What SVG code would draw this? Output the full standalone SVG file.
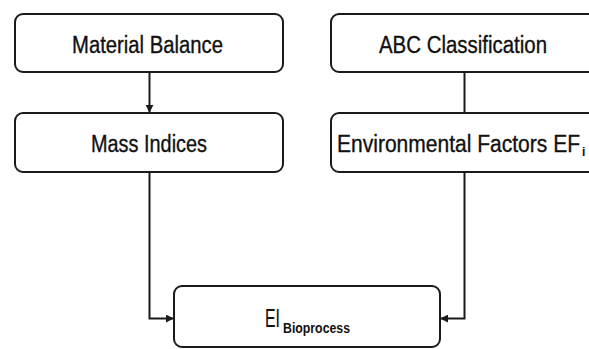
<svg xmlns="http://www.w3.org/2000/svg" width="589" height="349" viewBox="0 0 589 349">
<style>
.box{fill:#fff;stroke:#1a1a1a;stroke-width:2}
.lbl{font-family:"Liberation Sans",Arial,sans-serif;font-size:23.5px;fill:#111;stroke:#111;stroke-width:0.35;text-anchor:middle}
.sub{font-family:"Liberation Sans",Arial,sans-serif;fill:#111;font-weight:bold}
.con{fill:none;stroke:#1a1a1a;stroke-width:2}
</style>
<defs>
<marker id="ah" viewBox="0 0 10 10" refX="9" refY="5" markerWidth="4" markerHeight="4" orient="auto" markerUnits="strokeWidth">
<path d="M0,0 L10,5 L0,10 z" fill="#1a1a1a"/>
</marker>
</defs>
<rect width="589" height="349" fill="#fff"/>
<g id="connectors">
<line class="con" x1="149.5" y1="72" x2="149.5" y2="112" marker-end="url(#ah)"/>
<line class="con" x1="464.5" y1="72" x2="464.5" y2="113"/>
<polyline class="con" points="149.5,172 149.5,318.5 173,318.5" marker-end="url(#ah)"/>
<polyline class="con" points="464.5,172 464.5,318.5 441,318.5" marker-end="url(#ah)"/>
</g>
<g id="material-balance">
<rect class="box" x="15" y="14" width="268" height="58" rx="8"/>
<text class="lbl" x="147.5" y="53" textLength="151" lengthAdjust="spacingAndGlyphs">Material Balance</text>
</g>
<g id="mass-indices">
<rect class="box" x="15" y="113" width="268" height="59" rx="8"/>
<text class="lbl" x="149" y="152" textLength="116" lengthAdjust="spacingAndGlyphs">Mass Indices</text>
</g>
<g id="abc-classification">
<rect class="box" x="331" y="14" width="268" height="58" rx="8"/>
<text class="lbl" x="463" y="53" textLength="168" lengthAdjust="spacingAndGlyphs">ABC Classification</text>
</g>
<g id="environmental-factors">
<rect class="box" x="331" y="113" width="268" height="59" rx="8"/>
<text class="lbl" x="337" y="152" style="text-anchor:start" textLength="243" lengthAdjust="spacingAndGlyphs">Environmental Factors EF</text>
<text class="sub" x="582" y="156" font-size="12" font-weight="normal">i</text>
</g>
<g id="ei-bioprocess">
<rect class="box" x="174" y="286" width="266" height="61" rx="8"/>
<text class="lbl" x="265" y="327" style="text-anchor:start;font-size:26.5px;stroke-width:0.2" textLength="15" lengthAdjust="spacingAndGlyphs">EI</text>
<text class="sub" x="283" y="333" font-size="15" textLength="67" lengthAdjust="spacingAndGlyphs">Bioprocess</text>
</g>
</svg>
